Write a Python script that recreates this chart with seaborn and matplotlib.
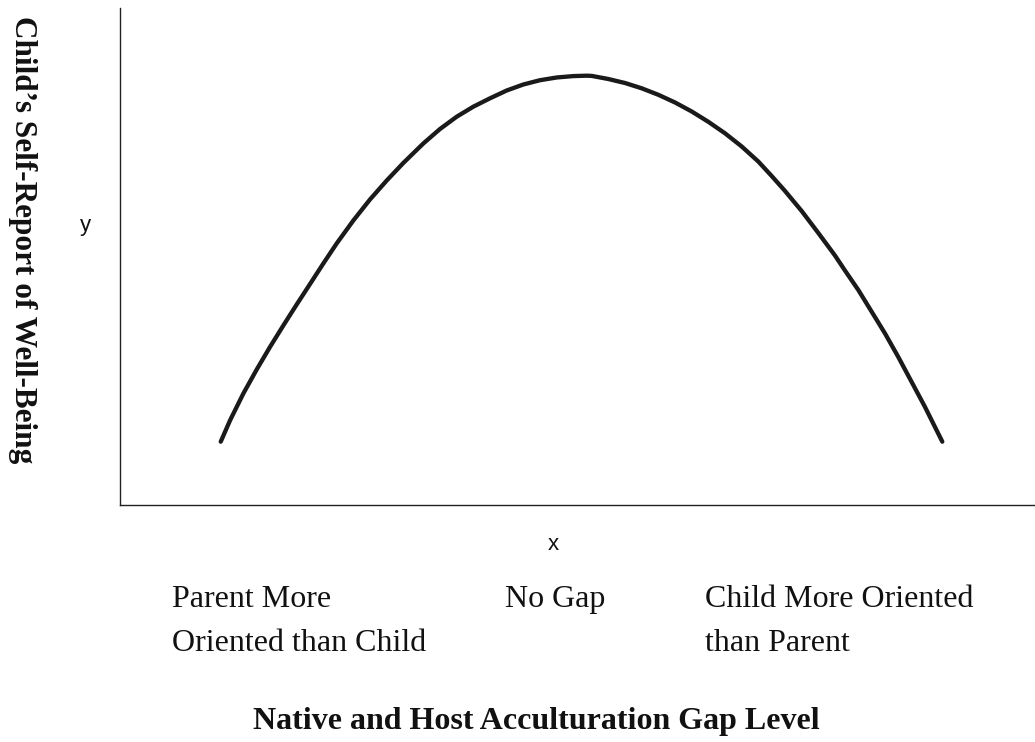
import matplotlib
matplotlib.use("Agg")
import matplotlib.pyplot as plt
import seaborn as sns
import pandas as pd

# Curve (x: gap level 0-100 across the axis, y: well-being 0-100)
gap_level = [11.01, 12.02, 13.48, 14.94, 16.39, 17.85, 19.31, 20.77, 22.22, 23.68,
             25.50, 27.32, 29.15, 30.96, 33.15, 34.97, 36.80, 38.61, 40.44, 42.26,
             44.08, 45.90, 47.73, 49.54, 51.01, 51.55, 53.37, 55.19, 57.02, 58.83,
             60.66, 62.48, 64.30, 66.12, 67.95, 69.76, 71.22, 72.68, 74.50, 76.32,
             78.14, 79.23, 80.69, 82.15, 83.61, 85.06, 86.52, 87.98, 89.07, 89.87]
well_being = [12.74, 17.00, 22.43, 27.26, 31.79, 36.12, 40.34, 44.47, 48.59, 52.62,
              57.24, 61.47, 65.29, 68.81, 72.74, 75.65, 78.13, 80.14, 81.83, 83.40,
              84.61, 85.47, 86.02, 86.30, 86.38, 86.34, 85.71, 84.91, 83.84, 82.54,
              80.99, 79.18, 77.10, 74.79, 72.13, 69.11, 66.20, 63.18, 59.15, 54.73,
              50.20, 47.18, 43.26, 38.89, 34.51, 29.78, 24.75, 19.72, 15.69, 12.74]

category_line1 = ["Parent More", "No Gap", "Child More Oriented"]
category_line2 = ["Oriented than Child", "", "than Parent"]
x_title = "Native and Host Acculturation Gap Level"
y_title = "Child\u2019s Self-Report of Well-Being"

df = pd.DataFrame({"x": gap_level, "y": well_being})

sns.set_style("white")
plt.rcParams["font.family"] = ["Liberation Serif", "DejaVu Serif"]

fig = plt.figure(figsize=(10.35, 7.42), dpi=100)
W, H = 1035, 742
ax = fig.add_axes([120 / W, 1 - 505 / H, (W - 120) / W, (505 - 8) / H])

sns.lineplot(data=df, x="x", y="y", ax=ax, color="#1a1a1a", linewidth=3.1,
             solid_capstyle="round", solid_joinstyle="round", sort=False)

ax.set_xlim(0, 100)
ax.set_ylim(0, 100)
ax.set_xticks([])
ax.set_yticks([])
ax.set_xlabel("")
ax.set_ylabel("")
for s in ["top", "right"]:
    ax.spines[s].set_visible(False)
for s in ["left", "bottom"]:
    ax.spines[s].set_color("#222222")
    ax.spines[s].set_linewidth(1.0)

# small axis letters
fig.text(85 / W, 1 - 226 / H, "y", family="Liberation Sans", fontsize=16,
         ha="center", va="center", color="#111111")
fig.text(553 / W, 1 - 544 / H, "x", family="Liberation Sans", fontsize=16,
         ha="center", va="center", color="#111111")

# category labels
cat_x = [172, 505, 705]
for px, l1, l2 in zip(cat_x, category_line1, category_line2):
    fig.text(px / W, 1 - 596 / H, l1, fontsize=23, ha="left", va="center_baseline",
             color="#111111")
    if l2:
        fig.text(px / W, 1 - 640 / H, l2, fontsize=23, ha="left", va="center_baseline",
                 color="#111111")

# titles
fig.text(536 / W, 1 - 722 / H, x_title, fontsize=23, fontweight="bold",
         ha="center", va="center", color="#111111")
fig.text(22 / W, 1 - 240 / H, y_title, fontsize=22.5, fontweight="bold",
         ha="center", va="center", rotation=270, color="#111111")

fig.savefig("out.png", dpi=100, facecolor="white")
